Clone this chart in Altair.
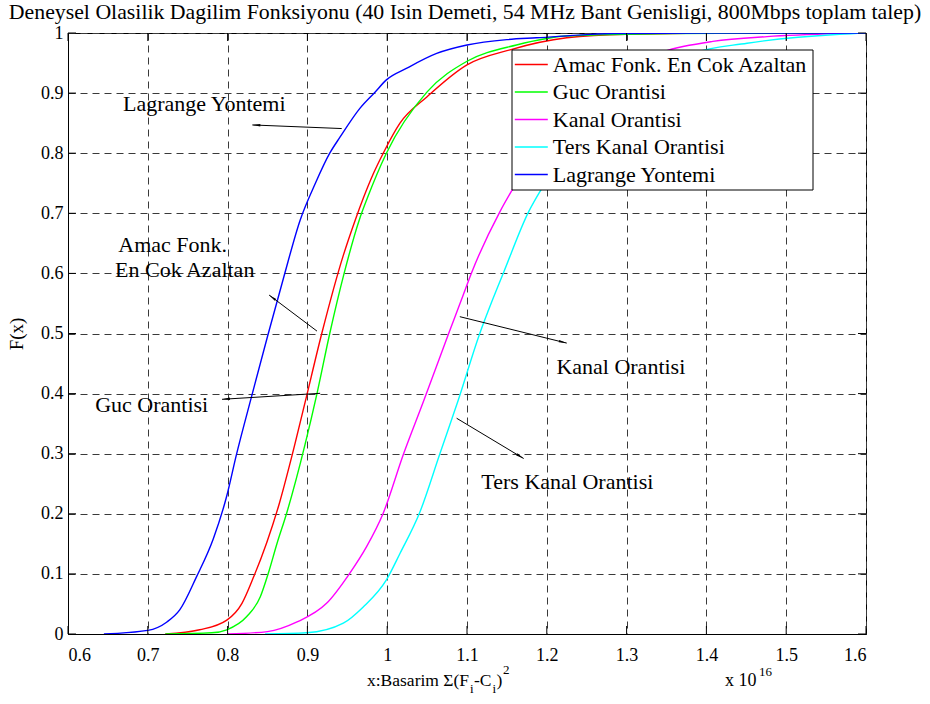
import math
import altair as alt
import pandas as pd

# ---------------- data ----------------
series_names = ["Amac Fonk. En Cok Azaltan", "Guc Orantisi", "Kanal Orantisi",
                "Ters Kanal Orantisi", "Lagrange Yontemi"]
series_colors = ["#FF0000", "#00FF00", "#FF00FF", "#00FFFF", "#0000FF"]

amac_x = [0.722, 0.765, 0.799, 0.818, 0.832, 0.849, 0.865, 0.880, 0.897, 0.918, 0.945, 0.960,
          0.970, 0.983, 0.995, 1.016, 1.050, 1.100, 1.154, 1.225, 1.300, 1.450, 1.600]
amac_y = [0.0, 0.007, 0.023, 0.051, 0.093, 0.152, 0.218, 0.293, 0.385, 0.50, 0.630, 0.689,
          0.725, 0.767, 0.80, 0.85, 0.894, 0.947, 0.972, 0.992, 0.998, 1.0, 1.0]

guc_x = [0.722, 0.780, 0.799, 0.824, 0.841, 0.851, 0.862, 0.874, 0.897, 0.912, 0.928, 0.946,
         0.965, 0.975, 0.999, 1.050, 1.100, 1.162, 1.225, 1.358, 1.500, 1.600]
guc_y = [0.0, 0.002, 0.007, 0.029, 0.062, 0.101, 0.151, 0.201, 0.315, 0.40, 0.50, 0.60,
         0.689, 0.725, 0.80, 0.902, 0.953, 0.980, 0.995, 0.999, 1.0, 1.0]

kanal_x = [0.800, 0.850, 0.887, 0.924, 0.953, 0.974, 0.995, 1.020, 1.046, 1.077, 1.093, 1.106,
           1.141, 1.158, 1.190, 1.230, 1.270, 1.310, 1.346, 1.408, 1.476, 1.567, 1.600]
kanal_y = [0.0, 0.004, 0.020, 0.051, 0.101, 0.145, 0.201, 0.298, 0.389, 0.50, 0.556, 0.602,
           0.702, 0.742, 0.81, 0.87, 0.92, 0.95, 0.969, 0.986, 0.994, 0.999, 1.0]

ters_x = [0.847, 0.899, 0.945, 0.970, 0.999, 1.016, 1.041, 1.066, 1.089, 1.116, 1.132, 1.146,
          1.177, 1.194, 1.230, 1.270, 1.320, 1.383, 1.451, 1.567, 1.600]
ters_y = [0.0, 0.002, 0.018, 0.045, 0.090, 0.134, 0.203, 0.300, 0.389, 0.50, 0.556, 0.602,
          0.702, 0.742, 0.81, 0.87, 0.92, 0.966, 0.983, 0.998, 1.0]

lag_x = [0.645, 0.700, 0.724, 0.740, 0.761, 0.782, 0.799, 0.811, 0.830, 0.850, 0.870, 0.891,
         0.910, 0.928, 0.941, 0.966, 0.985, 0.999, 1.024, 1.062, 1.100, 1.150, 1.187, 1.283,
         1.400, 1.600]
lag_y = [0.0, 0.006, 0.020, 0.040, 0.095, 0.158, 0.230, 0.298, 0.395, 0.495, 0.592, 0.689,
         0.750, 0.80, 0.827, 0.875, 0.902, 0.922, 0.941, 0.966, 0.980, 0.989, 0.992, 0.999,
         1.0, 1.0]

x_ticks = [0.6, 0.7, 0.8, 0.9, 1.0, 1.1, 1.2, 1.3, 1.4, 1.5, 1.6]
y_ticks = [0.0, 0.1, 0.2, 0.3, 0.4, 0.5, 0.6, 0.7, 0.8, 0.9, 1.0]

# annotations: label lines, text anchor (data coords), arrow start/end (data coords)
ann_text = ["Lagrange Yontemi", "Amac Fonk.", "En Cok Azaltan", "Guc Orantisi",
            "Kanal Orantisi", "Ters Kanal Orantisi"]
ann_tx = [0.669, 0.663, 0.659, 0.634, 1.212, 1.118]
ann_ty = [0.870, 0.636, 0.594, 0.370, 0.433, 0.241]

arr_x1 = [0.943, 0.912, 0.916, 1.091, 1.087]
arr_y1 = [0.841, 0.504, 0.4005, 0.528, 0.359]
arr_x2 = [0.831, 0.852, 0.793, 1.225, 1.171]
arr_y2 = [0.847, 0.564, 0.3905, 0.484, 0.292]

title_text = "Deneysel Olasilik Dagilim Fonksiyonu (40 Isin Demeti, 54 MHz Bant Genisligi, 800Mbps toplam talep)"

# ---------------- layout ----------------
W, H = 798, 601
XDOM = [0.6, 1.6]
YDOM = [0.0, 1.0]
FONT = "Liberation Serif"

rows = []
for name, xs, ys in zip(series_names, [amac_x, guc_x, kanal_x, ters_x, lag_x],
                        [amac_y, guc_y, kanal_y, ters_y, lag_y]):
    for i, (a, b) in enumerate(zip(xs, ys)):
        rows.append({"series": name, "x": a, "F": b, "i": i})
df = pd.DataFrame(rows)

xs_ = alt.Scale(domain=XDOM, nice=False, zero=False)
ys_ = alt.Scale(domain=YDOM, nice=False, zero=False)

lines = alt.Chart(df).mark_line(strokeWidth=1.4, interpolate="monotone", clip=True).encode(
    x=alt.X("x:Q", scale=xs_, axis=alt.Axis(values=x_ticks, format="~g", title=None, ticks=False,
                                            grid=True, labelPadding=12, domainColor="black")),
    y=alt.Y("F:Q", scale=ys_, axis=alt.Axis(values=y_ticks, format="~g", title="F(x)", ticks=False,
                                            grid=True, labelPadding=5, titleX=-42, titleY=H / 2,
                                            titleAngle=270, titleBaseline="bottom",
                                            domainColor="black")),
    color=alt.Color("series:N", scale=alt.Scale(domain=series_names, range=series_colors),
                    sort=series_names,
                    legend=alt.Legend(orient="none", legendX=443.5, legendY=16.5, title=None,
                                      strokeColor="black", fillColor="white", padding=4,
                                      symbolType="M-2,0H2", symbolSize=272,
                                      symbolStrokeWidth=1.6, symbolOffset=4.8,
                                      labelOffset=10.5, labelFont=FONT, labelFontSize=22,
                                      labelColor="black", rowPadding=5.5, labelLimit=400)),
    order="i:Q",
)

xt = pd.DataFrame({"v": x_ticks})
yt = pd.DataFrame({"v": y_ticks})
TL = 8
tick_b = alt.Chart(xt).mark_rule(color="black").encode(
    x=alt.X("v:Q", scale=xs_), y=alt.value(H), y2=alt.value(H - TL))
tick_t = alt.Chart(xt).mark_rule(color="black").encode(
    x=alt.X("v:Q", scale=xs_), y=alt.value(0), y2=alt.value(TL))
tick_l = alt.Chart(yt).mark_rule(color="black").encode(
    y=alt.Y("v:Q", scale=ys_), x=alt.value(0), x2=alt.value(TL))
tick_r = alt.Chart(yt).mark_rule(color="black").encode(
    y=alt.Y("v:Q", scale=ys_), x=alt.value(W), x2=alt.value(W - TL))

adf = pd.DataFrame({"t": ann_text, "x": ann_tx, "y": ann_ty})
ann = alt.Chart(adf).mark_text(align="left", baseline="alphabetic", font=FONT, fontSize=22,
                               color="black").encode(
    x=alt.X("x:Q", scale=xs_), y=alt.Y("y:Q", scale=ys_), text="t:N")

ang = []
for a1, b1, a2, b2 in zip(arr_x1, arr_y1, arr_x2, arr_y2):
    dxp = (a2 - a1) / (XDOM[1] - XDOM[0]) * W
    dyp = -(b2 - b1) / (YDOM[1] - YDOM[0]) * H
    ang.append(math.degrees(math.atan2(dxp, -dyp)) % 360)
rdf = pd.DataFrame({"x1": arr_x1, "y1": arr_y1, "x2": arr_x2, "y2": arr_y2, "ang": ang})
arrows = alt.Chart(rdf).mark_rule(color="black", strokeWidth=1).encode(
    x=alt.X("x1:Q", scale=xs_), y=alt.Y("y1:Q", scale=ys_), x2="x2:Q", y2="y2:Q")
heads = alt.Chart(rdf).mark_point(shape="M0,0L-0.3,2L0.3,2Z", filled=True, size=64,
                                  color="black", opacity=1).encode(
    x=alt.X("x2:Q", scale=xs_), y=alt.Y("y2:Q", scale=ys_),
    angle=alt.Angle("ang:Q", scale=None))

# title and x-axis title pieces (real text)
txt_parts = [(title_text, W / 2 - 2, -14, 21.8, "center"),
             ("x:Basarim \u03a3(F", 299, 653, 17.5, "left"), ("i", 402, 660, 13, "left"),
             ("-C", 406, 653, 17.5, "left"), ("i", 424.5, 660, 13, "left"),
             (")", 428.5, 653, 17.5, "left"), ("2", 435, 641, 13, "left"),
             ("x 10", 657, 653, 18, "left"), ("16", 691, 643, 13, "left")]
txt_layers = []
for t, px, py, fs, al in txt_parts:
    txt_layers.append(alt.Chart(pd.DataFrame({"t": [t]})).mark_text(
        align=al, baseline="alphabetic", font=FONT, fontSize=fs, color="black").encode(
        x=alt.value(px), y=alt.value(py), text="t:N"))

chart = alt.layer(lines, tick_b, tick_t, tick_l, tick_r, arrows, heads, ann, *txt_layers).properties(
    width=W, height=H,
    autosize=alt.AutoSizeParams(type="none"),
    padding={"left": 68, "top": 33, "right": 64, "bottom": 70},
    background="white",
).configure_view(stroke="black", strokeWidth=1).configure_axis(
    labelFont=FONT, labelFontSize=18, labelColor="black", titleFont=FONT, titleFontSize=19,
    titleColor="black", titleFontWeight="normal", gridColor="#3a3a3a", gridDash=[7, 5],
    gridWidth=1, domainWidth=1,
)

chart.save("out.html", embed_options={"renderer": "svg", "actions": False})
